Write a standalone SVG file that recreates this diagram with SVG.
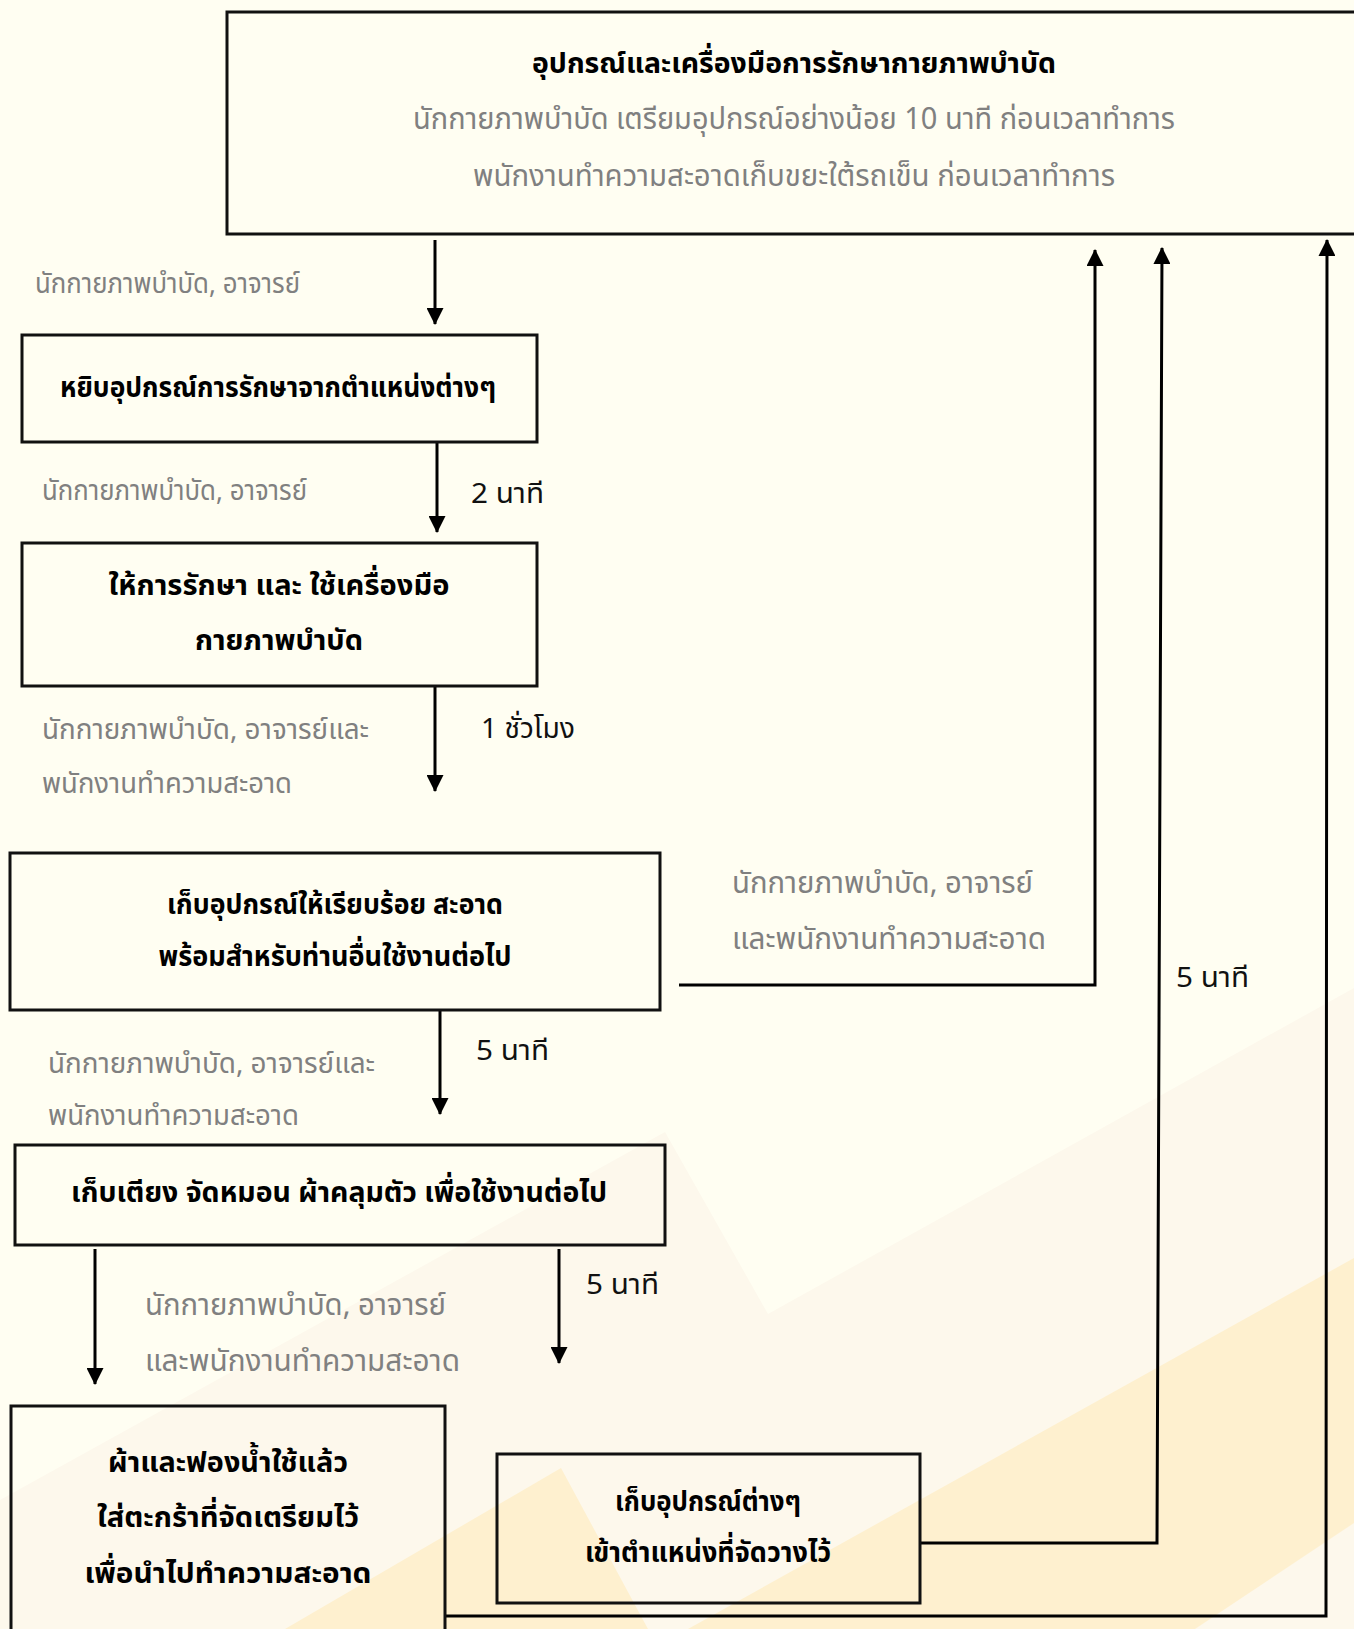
<svg xmlns="http://www.w3.org/2000/svg" width="1354" height="1629" viewBox="0 0 1354 1629">
<defs>
<marker id="ah" viewBox="0 0 16 16" refX="15" refY="8" markerWidth="17" markerHeight="17" markerUnits="userSpaceOnUse" orient="auto">
<path d="M0,0 L16,8 L0,16 Z" fill="#000"/>
</marker>
<style>
text{font-family:"Noto Sans Thai","Noto Sans","DejaVu Sans",sans-serif;dominant-baseline:central}
.box{fill:none;stroke:#111;stroke-width:3}
.t{font-size:29px;fill:#000;font-weight:bold;text-anchor:middle}
.g{font-size:28px;fill:#808080}
.G{font-size:30px;fill:#808080}
.k{font-size:28px;fill:#111}
.c{fill:none;stroke:#000;stroke-width:3}
.ca{fill:none;stroke:#000;stroke-width:3;marker-end:url(#ah)}
</style>
</defs>
<rect x="0" y="0" width="1354" height="1629" fill="#FFFEF2"/>
<g id="background">
<polygon points="665,1132 768,1314 1354,988 1354,1629 0,1629 0,1500" fill="#FDF8EC"/>
<polygon points="285,1629 561,1468 648,1629" fill="#FEF0CF"/>
<polygon points="688,1629 1354,1258 1354,1523 1195,1629" fill="#FEF0CF"/>
</g>
<g id="connectors">
<line class="ca" x1="435" y1="240" x2="435" y2="324"/>
<line class="ca" x1="437" y1="442" x2="437" y2="532"/>
<line class="ca" x1="435" y1="686" x2="435" y2="791"/>
<line class="ca" x1="440" y1="1010" x2="440" y2="1114"/>
<line class="ca" x1="95" y1="1249" x2="95" y2="1384"/>
<line class="ca" x1="559" y1="1249" x2="559" y2="1363"/>
<polyline class="ca" points="679,985 1095,985 1095,250"/>
<polyline class="ca" points="920,1543 1157,1543 1162,248"/>
<polyline class="ca" points="445,1616 1326,1616 1327,240"/>
</g>
<g id="n0">
<rect class="box" x="227" y="12" width="1140" height="222"/>
<text class="t" x="794" y="64" font-size="30" textLength="524" lengthAdjust="spacingAndGlyphs">อุปกรณ์และเครื่องมือการรักษากายภาพบำบัด</text>
<text class="G" x="794" y="120" text-anchor="middle" font-size="31" textLength="762" lengthAdjust="spacingAndGlyphs">นักกายภาพบำบัด เตรียมอุปกรณ์อย่างน้อย 10 นาที ก่อนเวลาทำการ</text>
<text class="G" x="794" y="177" text-anchor="middle" font-size="31" textLength="642" lengthAdjust="spacingAndGlyphs">พนักงานทำความสะอาดเก็บขยะใต้รถเข็น ก่อนเวลาทำการ</text>
</g>
<g id="n1">
<rect class="box" x="22" y="335" width="515" height="107"/>
<text class="t" x="278" y="388" textLength="436" lengthAdjust="spacingAndGlyphs">หยิบอุปกรณ์การรักษาจากตำแหน่งต่างๆ</text>
</g>
<g id="n2">
<rect class="box" x="22" y="543" width="515" height="143"/>
<text class="t" x="279" y="586" textLength="341" lengthAdjust="spacingAndGlyphs">ให้การรักษา และ ใช้เครื่องมือ</text>
<text class="t" x="279" y="641" textLength="168" lengthAdjust="spacingAndGlyphs">กายภาพบำบัด</text>
</g>
<g id="n3">
<rect class="box" x="10" y="853" width="650" height="157"/>
<text class="t" x="335" y="905" textLength="336" lengthAdjust="spacingAndGlyphs">เก็บอุปกรณ์ให้เรียบร้อย สะอาด</text>
<text class="t" x="335" y="957" textLength="353" lengthAdjust="spacingAndGlyphs">พร้อมสำหรับท่านอื่นใช้งานต่อไป</text>
</g>
<g id="n4">
<rect class="box" x="15" y="1145" width="650" height="100"/>
<text class="t" x="339" y="1193" textLength="536" lengthAdjust="spacingAndGlyphs">เก็บเตียง จัดหมอน ผ้าคลุมตัว เพื่อใช้งานต่อไป</text>
</g>
<g id="n5">
<rect class="box" x="11" y="1406" width="434" height="240"/>
<text class="t" x="228" y="1463" textLength="240" lengthAdjust="spacingAndGlyphs">ผ้าและฟองน้ำใช้แล้ว</text>
<text class="t" x="228" y="1518" textLength="262" lengthAdjust="spacingAndGlyphs">ใส่ตะกร้าที่จัดเตรียมไว้</text>
<text class="t" x="228" y="1574" textLength="287" lengthAdjust="spacingAndGlyphs">เพื่อนำไปทำความสะอาด</text>
</g>
<g id="n6">
<rect class="box" x="497" y="1454" width="423" height="149"/>
<text class="t" x="708" y="1502" textLength="186" lengthAdjust="spacingAndGlyphs">เก็บอุปกรณ์ต่างๆ</text>
<text class="t" x="708" y="1553" textLength="246" lengthAdjust="spacingAndGlyphs">เข้าตำแหน่งที่จัดวางไว้</text>
</g>
<g id="labels">
<text class="g" x="35" y="284" textLength="265" lengthAdjust="spacingAndGlyphs">นักกายภาพบำบัด, อาจารย์</text>
<text class="g" x="42" y="491" textLength="265" lengthAdjust="spacingAndGlyphs">นักกายภาพบำบัด, อาจารย์</text>
<text class="k" x="471" y="494" textLength="73" lengthAdjust="spacingAndGlyphs">2 นาที</text>
<text class="g" x="42" y="730" textLength="327" lengthAdjust="spacingAndGlyphs">นักกายภาพบำบัด, อาจารย์และ</text>
<text class="g" x="42" y="784" textLength="250" lengthAdjust="spacingAndGlyphs">พนักงานทำความสะอาด</text>
<text class="k" x="481" y="729" textLength="94" lengthAdjust="spacingAndGlyphs">1 ชั่วโมง</text>
<text class="G" x="732" y="884" textLength="301" lengthAdjust="spacingAndGlyphs">นักกายภาพบำบัด, อาจารย์</text>
<text class="G" x="732" y="940" textLength="314" lengthAdjust="spacingAndGlyphs">และพนักงานทำความสะอาด</text>
<text class="k" x="1176" y="978" textLength="73" lengthAdjust="spacingAndGlyphs">5 นาที</text>
<text class="g" x="48" y="1064" textLength="327" lengthAdjust="spacingAndGlyphs">นักกายภาพบำบัด, อาจารย์และ</text>
<text class="g" x="48" y="1116" textLength="251" lengthAdjust="spacingAndGlyphs">พนักงานทำความสะอาด</text>
<text class="k" x="476" y="1051" textLength="73" lengthAdjust="spacingAndGlyphs">5 นาที</text>
<text class="G" x="145" y="1306" textLength="301" lengthAdjust="spacingAndGlyphs">นักกายภาพบำบัด, อาจารย์</text>
<text class="G" x="145" y="1362" textLength="315" lengthAdjust="spacingAndGlyphs">และพนักงานทำความสะอาด</text>
<text class="k" x="586" y="1285" textLength="73" lengthAdjust="spacingAndGlyphs">5 นาที</text>
</g>
</svg>
